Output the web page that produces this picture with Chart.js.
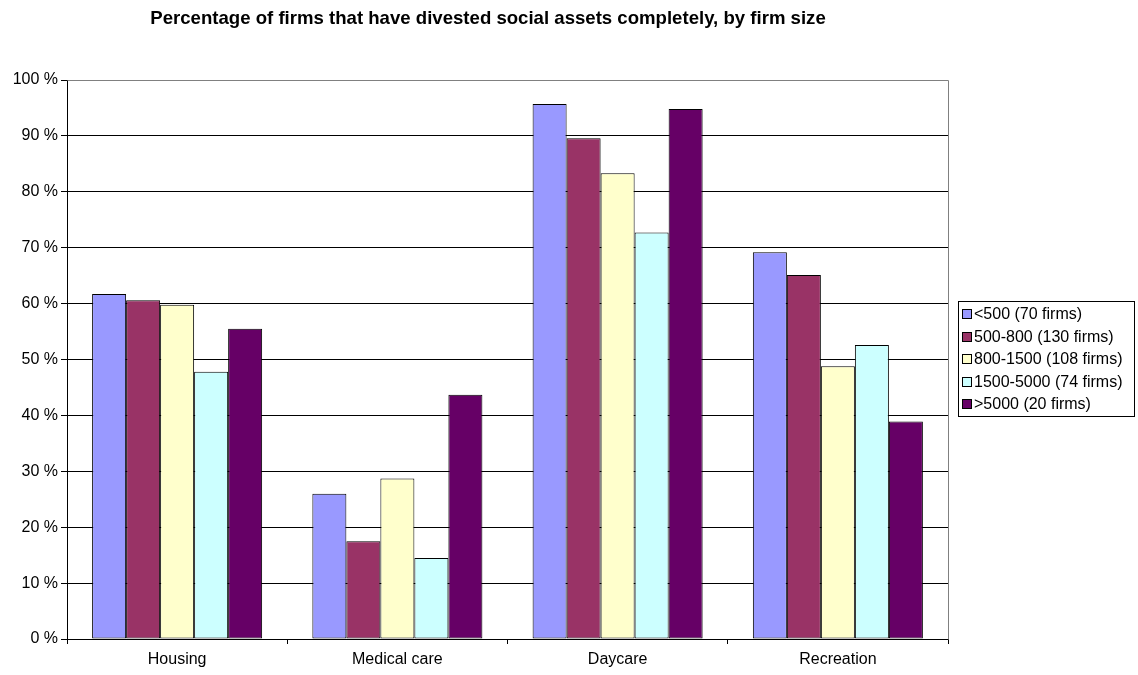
<!DOCTYPE html>
<html>
<head>
<meta charset="utf-8">
<script src="https://cdn.jsdelivr.net/npm/chart.js@4.4.1/dist/chart.umd.min.js"></script>
<style>
  html, body { margin: 0; padding: 0; background: #fff; }
  #wrap { width: 1138px; height: 675px; }
</style>
</head>
<body>
<div id="wrap"><canvas id="chart" width="1138" height="675"></canvas></div>
<script>
// Share of firms (%) that divested each kind of social asset completely
const categories = ['Housing', 'Medical care', 'Daycare', 'Recreation'];
const seriesLabels = ['<500 (70 firms)', '500-800 (130 firms)', '800-1500 (108 firms)', '1500-5000 (74 firms)', '>5000 (20 firms)'];
const under500 = [61.7, 26.0, 95.7, 69.2];
const from500to800 = [60.6, 17.5, 89.6, 65.1];
const from800to1500 = [59.8, 28.7, 83.3, 48.8];
const from1500to5000 = [47.8, 14.5, 72.7, 52.6];
const over5000 = [55.5, 43.7, 94.8, 38.9];
const yTickValues = [0, 10, 20, 30, 40, 50, 60, 70, 80, 90, 100];

const seriesValues = [under500, from500to800, from800to1500, from1500to5000, over5000];
const seriesColors = ['#9999FF', '#993366', '#FFFFCC', '#CCFFFF', '#660066'];
const FONT = "'Liberation Sans', Arial, sans-serif";

const datasets = seriesLabels.map((label, i) => ({
  label,
  data: seriesValues[i],
  backgroundColor: seriesColors[i],
  borderColor: '#000',
  borderWidth: 1,
  borderSkipped: false,
  categoryPercentage: 0.772,
  barPercentage: 1.0
}));

// Title, plot frame and boxed legend
const decorations = {
  id: 'decorations',
  afterDraw(chart) {
    const ctx = chart.ctx;
    const area = chart.chartArea;
    ctx.save();
    // plot frame (right edge)
    ctx.strokeStyle = '#808080';
    ctx.lineWidth = 1;
    ctx.beginPath();
    ctx.moveTo(Math.round(area.left) + 0.5, Math.round(area.top) + 0.5);
    ctx.lineTo(Math.round(area.right) + 0.5, Math.round(area.top) + 0.5);
    ctx.lineTo(Math.round(area.right) + 0.5, Math.round(area.bottom) + 0.5);
    ctx.stroke();

    // title
    ctx.fillStyle = '#000';
    ctx.font = 'bold 18.6px ' + FONT;
    ctx.textAlign = 'center';
    ctx.textBaseline = 'middle';
    ctx.fillText('Percentage of firms that have divested social assets completely, by firm size', 488, 19);

    // legend
    const lx = 958, ly = 301, lw = 176, lh = 115, rowH = 22.5;
    ctx.fillStyle = '#fff';
    ctx.fillRect(lx, ly, lw, lh);
    ctx.strokeStyle = '#000';
    ctx.strokeRect(lx + 0.5, ly + 0.5, lw, lh);
    ctx.font = '16px ' + FONT;
    ctx.textAlign = 'left';
    chart.data.datasets.forEach((ds, i) => {
      const cy = ly + 13 + i * rowH;
      ctx.fillStyle = ds.backgroundColor;
      ctx.fillRect(lx + 4, Math.round(cy - 5), 9, 9);
      ctx.strokeStyle = '#000';
      ctx.strokeRect(lx + 4.5, Math.round(cy - 5) + 0.5, 9, 9);
      ctx.fillStyle = '#000';
      ctx.fillText(ds.label, lx + 16, cy + 1);
    });
    ctx.restore();
  }
};

new Chart(document.getElementById('chart'), {
  type: 'bar',
  data: { labels: categories, datasets },
  options: {
    responsive: false,
    animation: false,
    layout: { padding: { left: 0, top: 80, right: 190, bottom: 0 } },
    plugins: {
      legend: { display: false },
      title: { display: false },
      tooltip: { enabled: false }
    },
    scales: {
      x: {
        grid: { display: true, drawOnChartArea: false, drawTicks: true, tickLength: 5, color: '#000', offset: true },
        border: { display: true, color: '#000', width: 1 },
        ticks: { color: '#000', font: { family: FONT, size: 16 }, padding: 6, maxRotation: 0 },
        afterFit(scale) { scale.height = 36; }
      },
      y: {
        min: 0,
        max: 100,
        afterBuildTicks(scale) { scale.ticks = yTickValues.map(v => ({ value: v })); },
        grid: { color: '#000', lineWidth: 1, tickLength: 6 },
        border: { display: true, color: '#000', width: 1 },
        ticks: { color: '#000', font: { family: FONT, size: 16 }, padding: 3, callback: v => v + ' %' },
        afterFit(scale) { scale.width = 67; }
      }
    }
  },
  plugins: [decorations]
});
</script>
</body>
</html>
